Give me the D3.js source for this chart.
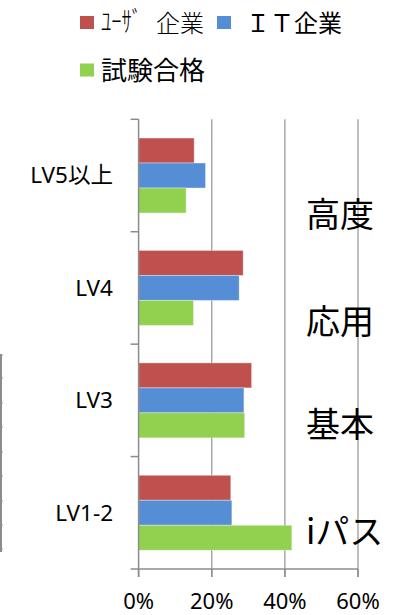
<!DOCTYPE html>
<html><head><meta charset="utf-8">
<script src="https://cdn.jsdelivr.net/npm/d3@7/dist/d3.min.js"></script>
<style>
html,body{margin:0;padding:0;background:#fff;}
svg{display:block;}
text{font-family:"Noto Sans","Noto Sans CJK JP",sans-serif;fill:#000;}
.cjk{font-family:"Noto Sans CJK JP","Noto Sans",sans-serif;}
</style></head>
<body>
<svg id="chart" width="397" height="615"></svg>
<script>
const categories = ["LV5以上", "LV4", "LV3", "LV1-2"];
const seriesNames = ["ﾕｰｻﾞ 企業", "ＩＴ企業", "試験合格"];
const userCompany = [0.152, 0.286, 0.309, 0.252];
const itCompany   = [0.183, 0.275, 0.288, 0.255];
const examPass    = [0.130, 0.150, 0.290, 0.419];
const xTicks = [0, 0.2, 0.4, 0.6];
const sideLabels = ["高度", "応用", "基本", "iパス"];
const colors = ["#C0504D", "#558ED5", "#92D050"];

const series = [userCompany, itCompany, examPass];
const svg = d3.select("#chart");

const x = d3.scaleLinear().domain([0, 0.6]).range([138.6, 358]);
const y = d3.scaleBand().domain(categories).range([119.3, 569]).padding(0);
const bw = y.bandwidth();
const inner = d3.scaleBand().domain(d3.range(series.length))
  .range([bw / 6, bw * 5 / 6]).padding(0);

// left fragment (cropped table edge)
const frag = svg.append("g");
frag.append("line").attr("x1", 1).attr("x2", 1).attr("y1", 354).attr("y2", 552)
  .attr("stroke", "#666").attr("stroke-width", 1.5);
const fragTicks = [355, 378, 403, 427, 452, 476, 501, 525, 549];
frag.selectAll("line.ft").data(fragTicks).join("line").attr("class", "ft")
  .attr("x1", 1).attr("x2", 3).attr("y1", d => d).attr("y2", d => d)
  .attr("stroke", "#999").attr("stroke-width", 1);

// gridlines
svg.append("g").selectAll("line").data(xTicks.slice(1)).join("line")
  .attr("x1", d => x(d)).attr("x2", d => x(d))
  .attr("y1", 119.3).attr("y2", 577)
  .attr("stroke", "#9C9C9C").attr("stroke-width", 1.3);

// bars
const groups = svg.append("g").selectAll("g").data(categories).join("g")
  .attr("transform", d => `translate(0,${y(d)})`);
groups.selectAll("rect").data((c, ci) => series.map((s, si) => ({si, v: s[ci]}))).join("rect")
  .attr("x", x(0))
  .attr("y", d => inner(d.si))
  .attr("width", d => x(d.v) - x(0))
  .attr("height", inner.bandwidth())
  .attr("fill", d => colors[d.si])
  .attr("stroke", "rgba(255,255,255,0.35)").attr("stroke-width", 1);

// y axis
const yAxisG = svg.append("g");
yAxisG.append("line").attr("x1", x(0)).attr("x2", x(0)).attr("y1", 119.3).attr("y2", 577)
  .attr("stroke", "#8C8C8C").attr("stroke-width", 1.5);
const yTicks = categories.map(c => y(c)).concat([y.range()[1]]);
yAxisG.selectAll("line.t").data(yTicks).join("line").attr("class", "t")
  .attr("x1", x(0) - 8).attr("x2", x(0)).attr("y1", d => d).attr("y2", d => d)
  .attr("stroke", "#8C8C8C").attr("stroke-width", 1.5);
yAxisG.selectAll("text").data(categories).join("text")
  .attr("x", 113).attr("y", d => y(d) + bw / 2)
  .attr("dy", "0.35em").attr("text-anchor", "end")
  .attr("font-size", 22.5).text(d => d);

// x axis
const xAxisG = svg.append("g");
xAxisG.append("line").attr("x1", x(0)).attr("x2", x(0.6)).attr("y1", 569).attr("y2", 569)
  .attr("stroke", "#8C8C8C").attr("stroke-width", 1.5);
xAxisG.selectAll("line.t").data(xTicks).join("line").attr("class", "t")
  .attr("x1", d => x(d)).attr("x2", d => x(d)).attr("y1", 569).attr("y2", 577)
  .attr("stroke", "#8C8C8C").attr("stroke-width", 1.5);
xAxisG.selectAll("text").data(xTicks).join("text")
  .attr("x", d => x(d)).attr("y", 609).attr("text-anchor", "middle")
  .attr("font-size", 22).text(d => d3.format(".0%")(d));

// side labels
svg.append("g").selectAll("text").data(sideLabels).join("text")
  .attr("class", "cjk")
  .attr("x", 306).attr("y", (d, i) => y(categories[i]) + bw / 2 + (i === 0 ? 40 : i === 1 ? 34 : i === 2 ? 25 : 19))
  .attr("dy", "0.35em").attr("font-size", 34).text(d => d);

// legend
const legendItems = [
  {name: seriesNames[0], color: colors[0], sx: 80, sy: 16, tx: 101, fs: 24},
  {name: seriesNames[1], color: colors[1], sx: 217, sy: 16, tx: 246, fs: 24},
  {name: seriesNames[2], color: colors[2], sx: 80, sy: 63.5, tx: 101, fs: 26}
];
const lg = svg.append("g");
lg.selectAll("rect").data(legendItems).join("rect")
  .attr("x", d => d.sx).attr("y", d => d.sy).attr("width", 14).attr("height", 13)
  .attr("fill", d => d.color);
const lt = lg.selectAll("text").data(legendItems).join("text")
  .attr("class", "cjk")
  .attr("x", d => d.tx).attr("y", d => d.sy + 16)
  .attr("font-size", d => d.fs);
lt.each(function(d, i) {
  const t = d3.select(this);
  if (i === 0) {
    const parts = d.name.split(" ");
    t.append("tspan").attr("font-size", 28).attr("font-weight", 300)
      .attr("textLength", 41).attr("lengthAdjust", "spacingAndGlyphs").text(parts[0]);
    t.append("tspan").attr("x", 156).attr("font-weight", 300).text(parts[1]);
  } else {
    t.text(d.name);
  }
});
</script>
</body></html>
